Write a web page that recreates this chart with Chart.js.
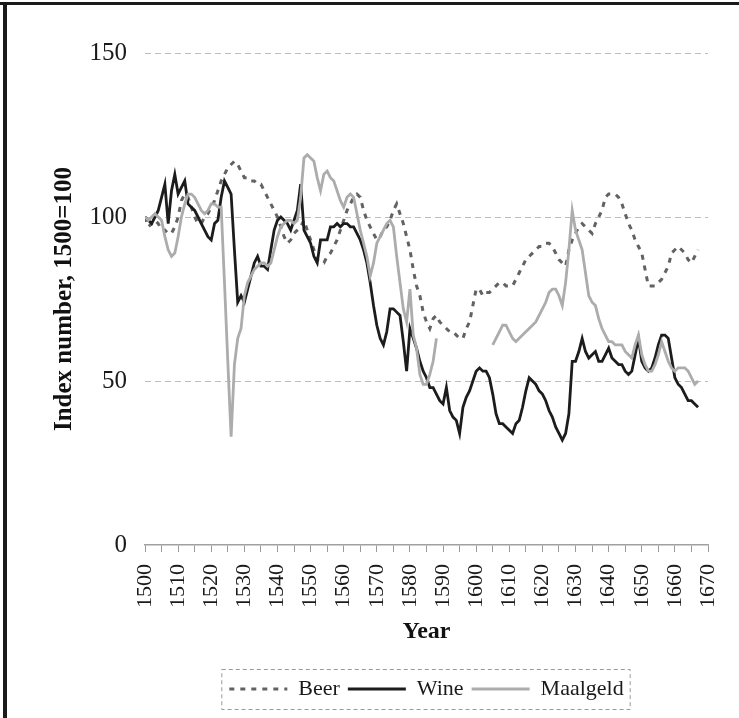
<!DOCTYPE html>
<html>
<head>
<meta charset="utf-8">
<script src="https://cdn.jsdelivr.net/npm/chart.js@4.4.1/dist/chart.umd.min.js"></script>
<style>
  html, body { margin: 0; padding: 0; background: #fff; }
  #wrap { width: 739px; height: 718px; }
</style>
</head>
<body>
<div id="wrap"><canvas id="chart" width="739" height="718"></canvas></div>
<script>
// index numbers, 1500=100, one value per year from 1500 on
const firstYear = 1500;

const beer = [
  100, 97, 98, 99, 98, 96, 96, 95, 95, 97,        // 1500-1509
  100, 105, 107, 106, 103, 100, 98, 98, 100, 101, // 1510-1519
  103, 105, 108, 111, 113, 115, 116, 117, 116, 114, // 1520-1529
  112, 112, 111, 111, 110, 110, 108, 106, 104, 102, // 1530-1539
  100, 97, 94, 92, 93, 95, 96, 97, 99, 96,        // 1540-1549
  93, 90, 87, 86, 86, 88, 89, 91, 93, 96,         // 1550-1559
  99, 102, 104, 106, 107, 106, 102, 99, 97, 95,   // 1560-1569
  93, 94, 96, 97, 99, 102, 104, 101, 98, 94,      // 1570-1579
  90, 84, 79, 76, 71, 68, 66, 69, 70, 68,         // 1580-1589
  67, 66, 65, 65, 64, 63, 63, 66, 68, 73,         // 1590-1599
  78, 78, 76, 77, 77, 78, 79, 80, 80, 79,         // 1600-1609
  79, 79, 81, 83, 85, 87, 88, 89, 90, 91,         // 1610-1619
  91, 92, 92, 91, 89, 87, 86, 85, 90, 93,         // 1620-1629
  95, 97, 98, 97, 96, 95, 98, 100, 102, 106,      // 1630-1639
  107, 107, 107, 106, 104, 101, 98, 96, 93, 91,   // 1640-1649
  89, 84, 79, 79, 79, 80, 81, 83, 85, 89,         // 1650-1659
  90, 91, 90, 89, 87, 86, 88, 90                  // 1660-1667
];

const wine = [
  100, 99, 98, 100, 102, 106, 110, 98, 108, 113,  // 1500-1509
  107, 109, 111, 104, 103, 102, 100, 98, 96, 94,  // 1510-1519
  93, 98, 99, 106, 111, 109, 107, 90, 74, 76,     // 1520-1529
  74, 78, 82, 86, 88, 85, 85, 84, 90, 96,         // 1530-1539
  99, 100, 99, 98, 96, 99, 102, 110, 96, 94,      // 1540-1549
  92, 88, 86, 93, 93, 93, 97, 97, 98, 97,         // 1550-1559
  98, 98, 97, 97, 95, 93, 90, 86, 80, 73,         // 1560-1569
  67, 63, 61, 65, 72, 72, 71, 70, 62, 53,         // 1570-1579
  66, 63, 60, 56, 53, 51, 48, 48, 46, 44,         // 1580-1589
  43, 48, 41, 39, 38, 34, 42, 45, 47, 50,         // 1590-1599
  53, 54, 53, 53, 51, 46, 40, 37, 37, 36,         // 1600-1609
  35, 34, 37, 38, 42, 47, 51, 50, 49, 47,         // 1610-1619
  46, 44, 41, 39, 36, 34, 32, 34, 40, 56,         // 1620-1629
  56, 59, 63, 59, 57, 58, 59, 56, 56, 58,         // 1630-1639
  60, 57, 56, 55, 55, 53, 52, 53, 58, 63,         // 1640-1649
  56, 54, 53, 54, 57, 61, 64, 64, 63, 57,         // 1650-1659
  51, 49, 48, 46, 44, 44, 43, 42                  // 1660-1667
];

const maalgeld = [
  100, 99, 100, 101, 100, 99, 94, 90, 88, 89,     // 1500-1509
  94, 100, 104, 107, 107, 106, 104, 102, 101, 102, // 1510-1519
  104, 104, 103, 103, 80, 56, 33, 55, 63, 66,     // 1520-1529
  76, 80, 82, 84, 85, 86, 86, 85, 86, 90,         // 1530-1539
  94, 97, 98, 99, 99, 98, 99, 106, 118, 119,      // 1540-1549
  118, 117, 112, 108, 113, 114, 112, 111, 108, 105, // 1550-1559
  103, 106, 107, 106, 101, 96, 92, 88, 82, 86,    // 1560-1569
  92, 94, 96, 98, 99, 97, 88, 80, 72, 68,         // 1570-1579
  78, 64, 60, 52, 49, 49, 52, 56, 63, null,       // 1580-1589
  null, null, null, null, null, null, null, null, null, null, // 1590-1599
  null, null, null, null, null, 61, 63, 65, 67, 67, // 1600-1609
  65, 63, 62, 63, 64, 65, 66, 67, 68, 70,         // 1610-1619
  72, 74, 77, 78, 78, 76, 73, 80, 90, 102,        // 1620-1629
  96, 93, 90, 83, 76, 74, 73, 69, 66, 64,         // 1630-1639
  62, 62, 61, 61, 61, 59, 58, 57, 61, 64,         // 1640-1649
  58, 55, 53, 53, 55, 58, 62, 59, 56, 54,         // 1650-1659
  53, 54, 54, 54, 53, 51, 49, 50                  // 1660-1667
];

const xTickLabels = [1500, 1510, 1520, 1530, 1540, 1550, 1560, 1570, 1580, 1590,
                     1600, 1610, 1620, 1630, 1640, 1650, 1660, 1670];
const yTickLabels = [0, 50, 100, 150];

const serif = '"Liberation Serif", "DejaVu Serif", serif';
const toPoints = arr => arr.map((v, i) => ({ x: firstYear + i, y: v }));

// page edge + dashed frame round the legend
const pagePlugin = {
  id: 'page',
  beforeDraw(chart) {
    const c = chart.ctx;
    c.save();
    c.fillStyle = '#ffffff';
    c.fillRect(0, 0, chart.width, chart.height);
    c.fillStyle = '#1a1a1a';
    c.fillRect(0, 2, chart.width, 3);
    c.fillRect(3, 2, 4, chart.height);
    c.restore();
  },
  afterDraw(chart) {
    const lg = chart.legend;
    if (!lg || !lg.legendHitBoxes.length) return;
    const boxes = lg.legendHitBoxes;
    const left = Math.min(...boxes.map(b => b.left)) - 8;
    const right = Math.max(...boxes.map(b => b.left + b.width)) + 6;
    const top = Math.min(...boxes.map(b => b.top)) - 9;
    const bottom = Math.max(...boxes.map(b => b.top + b.height)) + 9;
    const c = chart.ctx;
    c.save();
    c.strokeStyle = '#9a9a9a';
    c.lineWidth = 1;
    c.setLineDash([4, 3]);
    c.strokeRect(left + 0.5, top + 0.5, right - left, bottom - top);
    c.restore();
  }
};

const ctx = document.getElementById('chart').getContext('2d');
const chart = new Chart(ctx, {
  type: 'line',
  data: {
    datasets: [
      {
        label: 'Beer',
        data: toPoints(beer),
        borderColor: '#626262',
        borderWidth: 3,
        borderDash: [5, 6],
        pointRadius: 0,
        tension: 0,
        order: 3
      },
      {
        label: 'Wine',
        data: toPoints(wine),
        borderColor: '#1c1c1c',
        borderWidth: 2.8,
        pointRadius: 0,
        tension: 0,
        order: 2
      },
      {
        label: 'Maalgeld',
        data: toPoints(maalgeld),
        borderColor: '#acacac',
        borderWidth: 2.8,
        pointRadius: 0,
        tension: 0,
        spanGaps: false,
        order: 1
      }
    ]
  },
  options: {
    responsive: false,
    animation: false,
    layout: { padding: { top: 53, right: 31, left: 40, bottom: 8 } },
    plugins: {
      tooltip: { enabled: false },
      legend: {
        position: 'bottom',
        fullSize: false,
        labels: {
          usePointStyle: true,
          pointStyle: 'line',
          pointStyleWidth: 58,
          font: { family: serif, size: 22 },
          color: '#1a1a1a',
          padding: 8,
          generateLabels: c => Chart.defaults.plugins.legend.labels.generateLabels(c).map(item => {
            const ds = c.data.datasets[item.datasetIndex];
            item.lineDash = ds.borderDash || [];
            item.strokeStyle = ds.borderColor;
            item.lineWidth = ds.borderWidth;
            return item;
          }),
          sort: (a, b) => a.datasetIndex - b.datasetIndex
        }
      }
    },
    scales: {
      x: {
        type: 'linear',
        min: 1500,
        max: 1670,
        afterBuildTicks: scale => {
          // tick marks every 5 years, labels only at the decades
          const t = [];
          for (let y = 1500; y <= 1670; y += 5) t.push({ value: y });
          scale.ticks = t;
        },
        afterFit: scale => {
          scale.height = 125;
          scale.paddingLeft = 0;
          scale.paddingRight = 0;
        },
        ticks: {
          autoSkip: false,
          minRotation: 90,
          maxRotation: 90,
          callback: v => xTickLabels.includes(v) ? String(v) : '',
          font: { family: serif, size: 22 },
          color: '#1a1a1a',
          padding: 12
        },
        grid: { drawOnChartArea: false, drawTicks: true, tickLength: 7, color: '#9a9a9a' },
        border: { display: true, color: '#a0a0a0', width: 1.5 },
        title: {
          display: true,
          text: 'Year',
          font: { family: serif, size: 24, weight: 'bold' },
          color: '#111',
          padding: { top: 3, bottom: 24 }
        }
      },
      y: {
        min: 0,
        max: 150,
        afterBuildTicks: scale => {
          scale.ticks = yTickLabels.map(v => ({ value: v }));
        },
        afterFit: scale => { scale.width = 105; },
        ticks: {
          font: { family: serif, size: 25 },
          color: '#1a1a1a',
          padding: 18
        },
        grid: {
          drawTicks: false,
          color: c => c.tick && c.tick.value === 0 ? 'rgba(0,0,0,0)' : '#bdbdbd',
          lineWidth: 1
        },
        border: { display: false, dash: [6, 4] },
        title: {
          display: true,
          text: 'Index number, 1500=100',
          font: { family: serif, size: 25, weight: 'bold' },
          color: '#111',
          padding: { top: 10, bottom: 0 }
        }
      }
    }
  },
  plugins: [pagePlugin]
});
</script>
</body>
</html>
